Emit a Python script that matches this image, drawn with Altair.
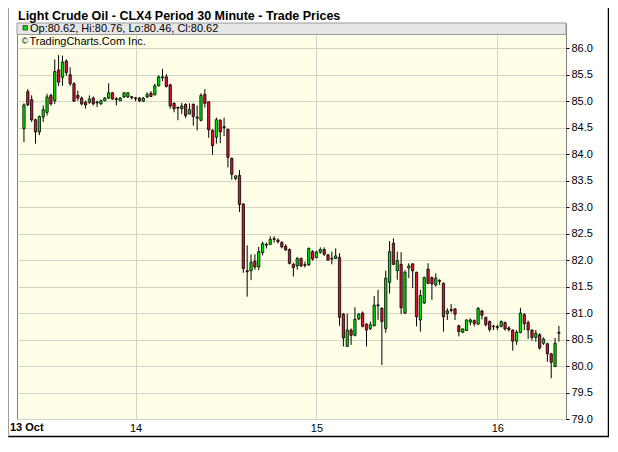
import altair as alt
import pandas as pd

# ---- data (30-minute bars, 13-16 Oct) ----
opens = [84.48, 85.18, 85.03, 84.65, 84.42, 84.70, 84.79, 85.11, 85.01, 85.59,
         85.45, 85.76, 85.50, 85.33, 85.11, 85.06, 84.98, 84.98, 85.06, 84.97,
         84.95, 85.01, 85.06, 85.16, 85.03, 85.01, 85.08, 85.08, 85.07, 85.05,
         85.06, 85.00, 85.08, 85.15, 85.12, 85.29, 85.44, 85.46, 85.31, 84.96,
         84.87, 84.86, 84.94, 84.76, 84.94, 84.70, 84.64, 85.13, 84.99, 84.45,
         84.32, 84.64, 84.52, 84.47, 83.92, 83.54, 83.60, 83.06, 81.80, 81.80,
         81.98, 81.87, 82.14, 82.28, 82.30, 82.39, 82.38, 82.33, 82.26, 82.20,
         81.92, 81.89, 82.03, 81.90, 81.91, 82.16, 82.05, 82.15, 82.20, 82.10,
         82.02, 82.03, 82.05, 80.98, 80.37, 80.68, 80.58, 80.89, 81.00, 80.79,
         80.71, 80.76, 81.14, 81.09, 80.71, 81.58, 82.32, 81.80, 81.92, 81.00,
         81.85, 81.93, 81.77, 80.87, 81.19, 81.83, 81.67, 81.53, 81.60, 81.56,
         80.99, 81.05, 81.08, 80.76, 80.64, 80.67, 80.83, 80.86, 80.79, 81.04,
         80.92, 80.84, 80.74, 80.73, 80.75, 80.82, 80.72, 80.68, 80.47, 80.63,
         80.97, 80.82, 80.68, 80.54, 80.59, 80.43, 80.42, 80.23, 79.99, 80.62]
highs = [84.96, 85.23, 85.11, 84.67, 84.73, 84.92, 85.14, 85.14, 85.79, 85.87,
         85.86, 85.79, 85.64, 85.36, 85.20, 85.09, 85.01, 85.11, 85.09, 85.01,
         85.03, 85.08, 85.34, 85.17, 85.08, 85.08, 85.17, 85.17, 85.10, 85.08,
         85.08, 85.08, 85.17, 85.19, 85.33, 85.49, 85.61, 85.51, 85.33, 84.98,
         84.90, 84.97, 84.96, 84.96, 84.96, 84.92, 85.15, 85.23, 84.99, 84.47,
         84.69, 84.66, 84.69, 84.48, 83.94, 83.60, 83.70, 83.07, 82.28, 82.11,
         82.11, 82.25, 82.35, 82.33, 82.45, 82.45, 82.41, 82.36, 82.30, 82.22,
         81.95, 82.06, 82.05, 81.97, 82.24, 82.19, 82.18, 82.24, 82.24, 82.11,
         82.16, 82.22, 82.13, 81.00, 80.99, 80.71, 81.11, 81.00, 81.03, 80.81,
         80.84, 81.32, 81.44, 81.11, 81.80, 82.36, 82.41, 82.16, 82.15, 81.81,
         81.94, 81.94, 81.78, 81.44, 81.69, 81.94, 81.69, 81.75, 81.64, 81.58,
         81.09, 81.17, 81.09, 80.78, 80.71, 80.88, 80.90, 80.88, 81.11, 81.06,
         80.93, 80.86, 80.78, 80.78, 80.86, 80.84, 80.75, 80.69, 80.68, 81.10,
         81.00, 80.86, 80.69, 80.68, 80.62, 80.54, 80.44, 80.25, 80.53, 80.76]
lows = [84.23, 84.91, 84.61, 84.20, 84.36, 84.61, 84.73, 84.92, 84.95, 85.29,
        85.29, 85.48, 85.29, 84.99, 85.01, 84.92, 84.86, 84.95, 84.92, 84.89,
        84.93, 85.00, 85.04, 85.03, 84.92, 85.00, 85.06, 85.06, 85.03, 85.00,
        84.98, 84.99, 85.06, 85.08, 85.11, 85.28, 85.38, 85.26, 84.86, 84.79,
        84.64, 84.76, 84.68, 84.75, 84.54, 84.45, 84.62, 84.88, 84.31, 83.99,
        84.20, 84.21, 84.34, 83.75, 83.52, 83.51, 82.91, 81.76, 81.31, 81.62,
        81.82, 81.81, 82.09, 82.22, 82.28, 82.33, 82.31, 82.22, 82.18, 81.92,
        81.69, 81.82, 81.87, 81.86, 81.89, 81.99, 82.03, 82.12, 82.08, 81.99,
        81.92, 82.02, 80.76, 80.37, 80.37, 80.40, 80.56, 80.87, 80.73, 80.37,
        80.68, 80.75, 80.87, 80.02, 80.63, 81.37, 81.91, 81.63, 80.98, 80.98,
        81.66, 81.47, 80.75, 80.65, 81.17, 81.55, 81.25, 81.50, 81.53, 80.65,
        80.87, 81.01, 80.87, 80.56, 80.62, 80.66, 80.77, 80.75, 80.78, 80.88,
        80.75, 80.65, 80.68, 80.68, 80.73, 80.67, 80.65, 80.29, 80.40, 80.62,
        80.68, 80.51, 80.48, 80.46, 80.31, 80.40, 80.08, 79.77, 79.98, 80.46]
closes = [84.93, 84.93, 84.65, 84.42, 84.71, 84.84, 85.08, 84.95, 85.56, 85.36,
          85.74, 85.54, 85.33, 85.00, 85.06, 84.95, 84.93, 85.04, 84.95, 84.96,
          85.01, 85.06, 85.16, 85.04, 85.02, 85.06, 85.16, 85.16, 85.06, 85.04,
          85.01, 85.06, 85.13, 85.09, 85.29, 85.46, 85.46, 85.28, 84.91, 84.86,
          84.86, 84.91, 84.73, 84.84, 84.71, 84.68, 85.11, 84.96, 84.46, 84.16,
          84.65, 84.42, 84.50, 83.94, 83.62, 83.59, 83.05, 81.84, 81.78, 81.96,
          81.87, 82.16, 82.31, 82.30, 82.39, 82.40, 82.35, 82.25, 82.19, 81.94,
          81.86, 82.03, 81.89, 81.91, 82.22, 82.02, 82.15, 82.20, 82.11, 82.00,
          82.01, 82.08, 80.92, 80.53, 80.68, 80.58, 80.88, 80.98, 80.75, 80.68,
          80.78, 81.15, 81.13, 80.84, 81.66, 82.16, 81.92, 81.99, 81.10, 81.77,
          81.89, 81.80, 80.93, 81.33, 81.67, 81.56, 81.55, 81.66, 81.59, 80.93,
          81.04, 81.04, 80.98, 80.65, 80.70, 80.87, 80.87, 80.80, 81.09, 80.96,
          80.78, 80.69, 80.73, 80.74, 80.84, 80.70, 80.69, 80.47, 80.64, 81.00,
          80.80, 80.68, 80.54, 80.62, 80.34, 80.51, 80.23, 80.07, 80.43, 80.62]

day_tick_bars = [29, 76, 123]
day_tick_labels = ["14", "15", "16"]
first_day_label = "13 Oct"
price_ticks = [79.0, 79.5, 80.0, 80.5, 81.0, 81.5, 82.0, 82.5, 83.0, 83.5,
               84.0, 84.5, 85.0, 85.5, 86.0]
title_text = "Light Crude Oil - CLX4 Period 30 Minute - Trade Prices"
credit_text = "TradingCharts.Com Inc."

FONT = "Liberation Sans"
GRID = "#D4D4C6"
UP = "#00E400"
DOWN = "#DC1030"
PLOT_BG = "#FFFFE8"
W, H = 549, 396

df = pd.DataFrame({"i": list(range(len(opens))), "o": opens, "h": highs,
                   "l": lows, "c": closes})
df["dir"] = ["up" if c >= o else "down" for o, c in zip(opens, closes)]

label_expr = " : ".join(f"datum.value == {b} ? '{t}'" for b, t in
                        zip(day_tick_bars[:-1], day_tick_labels[:-1])) + \
    f" : '{day_tick_labels[-1]}'"

xscale = alt.Scale(domain=[-0.51, 139.54], nice=False, zero=False)
yscale = alt.Scale(domain=[79.0, 86.477], nice=False, zero=False)

x_enc = alt.X("i:Q", scale=xscale,
              axis=alt.Axis(values=day_tick_bars, labelExpr=label_expr, grid=True,
                            gridColor=GRID, ticks=False, domain=False, labelPadding=3,
                            labelFont=FONT, labelFontSize=11, labelColor="black",
                            title=None))
y_axis = alt.Axis(orient="right", values=price_ticks, format=".1f", grid=True,
                  gridColor=GRID, tickColor="black", tickSize=3, domain=False,
                  labelPadding=2, labelFont=FONT, labelFontSize=11,
                  labelColor="black", title=None)

base = alt.Chart(df)

wicks = base.mark_rule(color="black", strokeWidth=1).encode(
    x=x_enc,
    y=alt.Y("l:Q", scale=yscale, axis=y_axis),
    y2="h:Q",
)

bodies = base.transform_calculate(
    c2="abs(datum.c - datum.o) < 0.015 ? datum.o + 0.015 : datum.c"
).mark_bar(size=2.3, stroke="black", strokeWidth=0.8).encode(
    x=x_enc,
    y=alt.Y("o:Q", scale=yscale, axis=y_axis),
    y2="c2:Q",
    color=alt.Color("dir:N", scale=alt.Scale(domain=["up", "down"], range=[UP, DOWN]),
                    legend=None),
)

last = len(opens) - 1
info_text = (f"Op:{opens[last]:.2f}, Hi:{highs[last]:.2f}, "
             f"Lo:{lows[last]:.2f}, Cl:{closes[last]:.2f}")
info = pd.DataFrame({"t": [info_text], "title": [title_text], "credit": [credit_text],
                     "day0": [first_day_label], "cc": ["\u00a9"]})
ib = alt.Chart(info)

band = ib.mark_rect(fill="#E6E6E6", stroke="#9A9A9A", strokeWidth=1).encode(
    x=alt.value(0), x2=alt.value(W), y=alt.value(0), y2=alt.value(11.5))
swatch = ib.mark_rect(fill=UP if closes[last] >= opens[last] else DOWN,
                      stroke="#333333", strokeWidth=0.8).encode(
    x=alt.value(6), x2=alt.value(10.5), y=alt.value(2.5), y2=alt.value(7))
info_lbl = ib.mark_text(align="left", baseline="alphabetic", font=FONT,
                        fontSize=11, color="black").encode(
    x=alt.value(13), y=alt.value(9), text="t:N")
cc_lbl = ib.mark_text(align="left", baseline="alphabetic", font=FONT,
                      fontSize=9, color="black").encode(
    x=alt.value(4.5), y=alt.value(21), text="cc:N")
credit_lbl = ib.mark_text(align="left", baseline="alphabetic", font=FONT,
                          fontSize=11, color="black").encode(
    x=alt.value(12.5), y=alt.value(21.5), text="credit:N")
title_lbl = ib.mark_text(align="left", baseline="alphabetic", font=FONT,
                         fontSize=12.5, fontWeight="bold", color="black").encode(
    x=alt.value(1), y=alt.value(-3.5), text="title:N")
day0_lbl = ib.mark_text(align="left", baseline="alphabetic", font=FONT,
                        fontSize=11, fontWeight="bold", color="black").encode(
    x=alt.value(-7), y=alt.value(408), text="day0:N")
frame_right = ib.mark_rule(color="black", strokeWidth=1.5).encode(
    x=alt.value(591.5), y=alt.value(-15), y2=alt.value(413.5))
frame_bottom = ib.mark_rule(color="black", strokeWidth=1.5).encode(
    x=alt.value(-9), x2=alt.value(592), y=alt.value(413.5))
frame_left = ib.mark_rule(color="#A0A0A0", strokeWidth=1).encode(
    x=alt.value(-8.5), y=alt.value(-15), y2=alt.value(413.5))

chart = alt.layer(
    wicks, bodies, band, swatch, info_lbl, cc_lbl, credit_lbl, title_lbl, day0_lbl,
    frame_right, frame_bottom, frame_left,
).properties(
    width=W, height=H, autosize="none",
    padding={"left": 9, "top": 15, "right": 43, "bottom": 19},
    view=alt.ViewBackground(fill=PLOT_BG, stroke="#808080"),
).configure_view(
    stroke="#808080", fill=PLOT_BG
).configure(background="white")

chart.save("out.html", embed_options={"renderer": "svg", "actions": False})
